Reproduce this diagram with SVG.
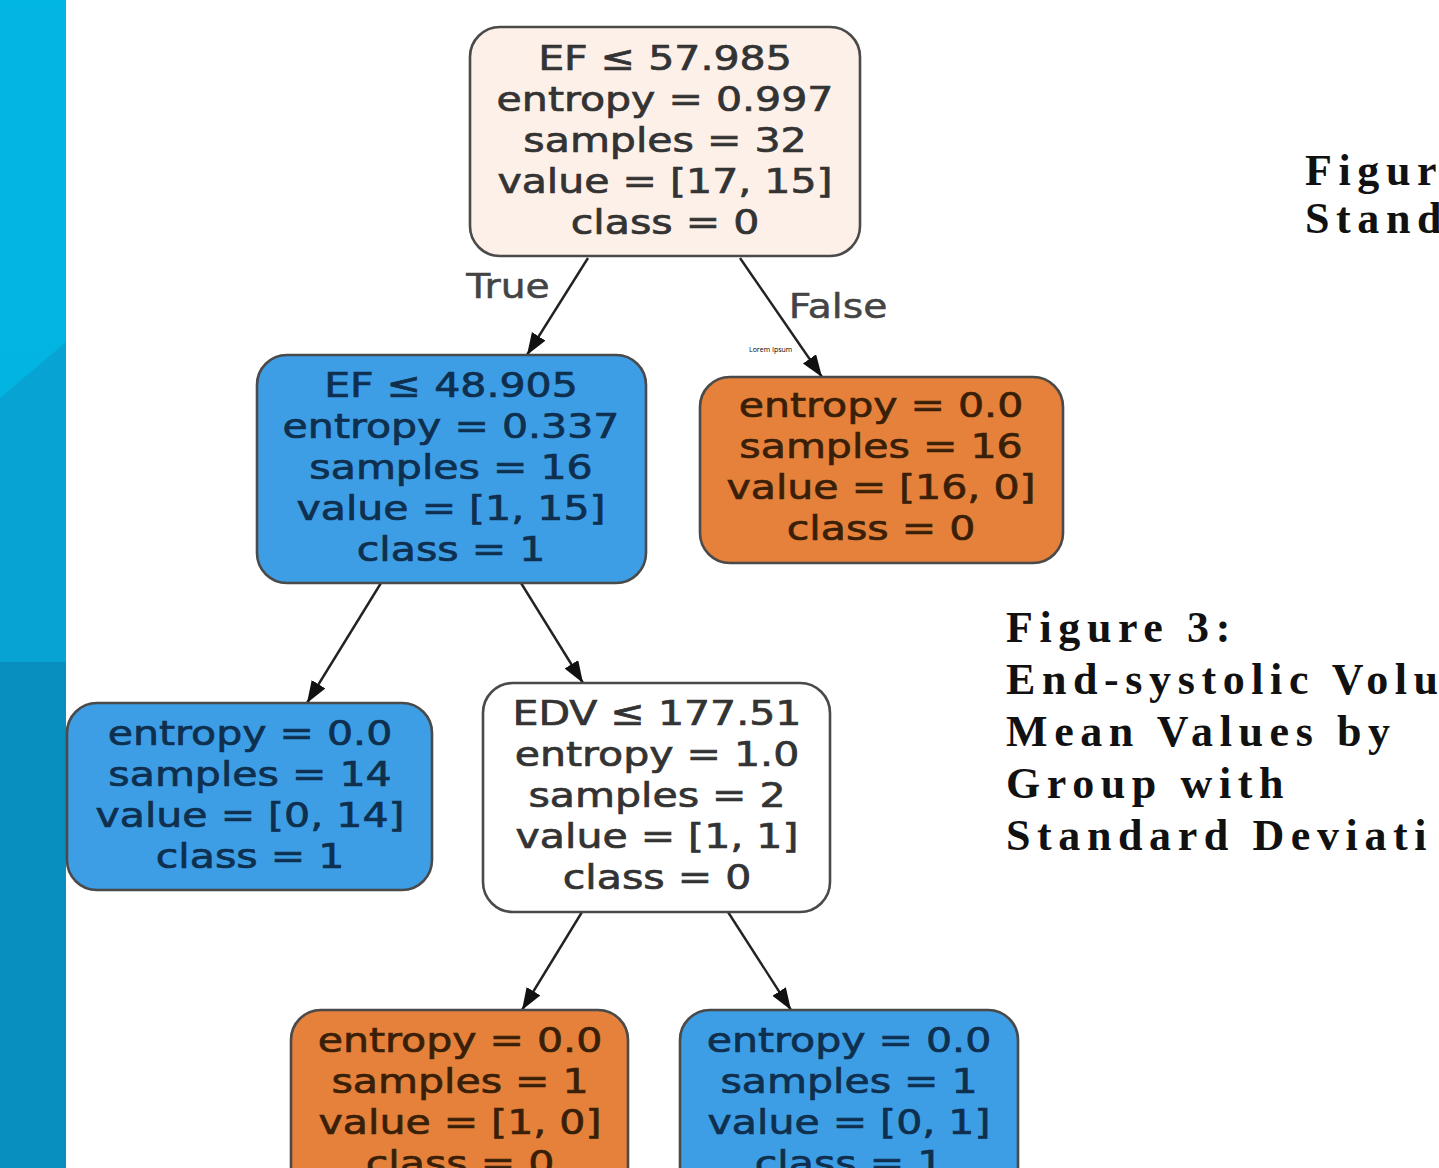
<svg xmlns="http://www.w3.org/2000/svg" width="1439" height="1168" viewBox="0 0 1439 1168">
<style>
.box{stroke:#4a4a4a;stroke-width:2.6}
.root{fill:#fcf0e8}
.wht{fill:#ffffff}
.blu{fill:#3d9ee6}
.org{fill:#e5813a}
.t{font-family:"DejaVu Sans",sans-serif;font-size:34.5px;text-anchor:middle;stroke-width:0.7px}
.tg{fill:#333;stroke:#333}
.tb{fill:#0f2f4e;stroke:#0f2f4e}
.to{fill:#3a1f08;stroke:#3a1f08}
.lbl{font-family:"DejaVu Sans",sans-serif;font-size:33px;fill:#444;stroke:#444;stroke-width:0.5px;text-anchor:middle}
.edge{stroke:#222;stroke-width:2.4;fill:none;marker-end:url(#ah)}
.cap{font-family:"Liberation Serif","Times New Roman",serif;font-weight:bold;font-size:44px;letter-spacing:6.6px;fill:#111}
</style>
<defs>
<marker id="ah" markerUnits="userSpaceOnUse" markerWidth="24" markerHeight="18" refX="22" refY="8" orient="auto">
<path d="M0,0 L22,8 L0,16 z" fill="#111"/>
</marker>
<linearGradient id="sg" x1="0" y1="0" x2="0" y2="1">
<stop offset="0" stop-color="#02b6e3"/>
<stop offset="1" stop-color="#03b1df"/>
</linearGradient>
</defs>
<rect width="1439" height="1168" fill="#ffffff"/>
<g id="strip">
<rect x="0" y="0" width="66" height="1168" fill="url(#sg)"/>
<polygon points="0,398 66,342 66,662 0,662" fill="#07a4d3"/>
<polygon points="0,662 66,662 66,1168 0,1168" fill="#088fc0"/>
</g>
<g id="connectors">
<line class="edge" x1="588" y1="258" x2="527" y2="355"/>
<line class="edge" x1="740" y1="258" x2="822" y2="377"/>
<line class="edge" x1="381" y1="583" x2="307" y2="703"/>
<line class="edge" x1="521" y1="583" x2="583" y2="683"/>
<line class="edge" x1="582" y1="912" x2="522" y2="1010"/>
<line class="edge" x1="728" y1="912" x2="791" y2="1010"/>
<text class="lbl" transform="matrix(1.19,0,0,1,508,298)">True</text>
<text class="lbl" transform="matrix(1.19,0,0,1,838,318)">False</text>
</g>
<g id="n0">
<rect class="box root" x="470" y="27" width="390" height="229" rx="30"/>
<g class="t tg">
<text transform="matrix(1.19,0,0,1,665,70)">EF ≤ 57.985</text>
<text transform="matrix(1.19,0,0,1,665,111)">entropy = 0.997</text>
<text transform="matrix(1.19,0,0,1,665,152)">samples = 32</text>
<text transform="matrix(1.19,0,0,1,665,193)">value = [17, 15]</text>
<text transform="matrix(1.19,0,0,1,665,234)">class = 0</text>
</g>
</g>
<g id="n1">
<rect class="box blu" x="257" y="355" width="389" height="228" rx="30"/>
<g class="t tb">
<text transform="matrix(1.19,0,0,1,451,397)">EF ≤ 48.905</text>
<text transform="matrix(1.19,0,0,1,451,438)">entropy = 0.337</text>
<text transform="matrix(1.19,0,0,1,451,479)">samples = 16</text>
<text transform="matrix(1.19,0,0,1,451,520)">value = [1, 15]</text>
<text transform="matrix(1.19,0,0,1,451,561)">class = 1</text>
</g>
</g>
<g id="n2">
<rect class="box org" x="700" y="377" width="363" height="186" rx="30"/>
<g class="t to">
<text transform="matrix(1.19,0,0,1,881,417)">entropy = 0.0</text>
<text transform="matrix(1.19,0,0,1,881,458)">samples = 16</text>
<text transform="matrix(1.19,0,0,1,881,499)">value = [16, 0]</text>
<text transform="matrix(1.19,0,0,1,881,540)">class = 0</text>
</g>
<text x="749" y="352" font-family="'Open Sans','Liberation Sans',sans-serif" font-size="7" fill="#000">Lorem Ipsum</text>
</g>
<g id="n3">
<rect class="box blu" x="67" y="703" width="365" height="187" rx="30"/>
<g class="t tb">
<text transform="matrix(1.19,0,0,1,250,745)">entropy = 0.0</text>
<text transform="matrix(1.19,0,0,1,250,786)">samples = 14</text>
<text transform="matrix(1.19,0,0,1,250,827)">value = [0, 14]</text>
<text transform="matrix(1.19,0,0,1,250,868)">class = 1</text>
</g>
</g>
<g id="n4">
<rect class="box wht" x="483" y="683" width="347" height="229" rx="30"/>
<g class="t tg">
<text transform="matrix(1.19,0,0,1,657,725)">EDV ≤ 177.51</text>
<text transform="matrix(1.19,0,0,1,657,766)">entropy = 1.0</text>
<text transform="matrix(1.19,0,0,1,657,807)">samples = 2</text>
<text transform="matrix(1.19,0,0,1,657,848)">value = [1, 1]</text>
<text transform="matrix(1.19,0,0,1,657,889)">class = 0</text>
</g>
</g>
<g id="n5">
<rect class="box org" x="291" y="1010" width="337" height="200" rx="30"/>
<g class="t to">
<text transform="matrix(1.19,0,0,1,460,1052)">entropy = 0.0</text>
<text transform="matrix(1.19,0,0,1,460,1093)">samples = 1</text>
<text transform="matrix(1.19,0,0,1,460,1134)">value = [1, 0]</text>
<text transform="matrix(1.19,0,0,1,460,1175)">class = 0</text>
</g>
</g>
<g id="n6">
<rect class="box blu" x="680" y="1010" width="338" height="200" rx="30"/>
<g class="t tb">
<text transform="matrix(1.19,0,0,1,849,1052)">entropy = 0.0</text>
<text transform="matrix(1.19,0,0,1,849,1093)">samples = 1</text>
<text transform="matrix(1.19,0,0,1,849,1134)">value = [0, 1]</text>
<text transform="matrix(1.19,0,0,1,849,1175)">class = 1</text>
</g>
</g>
<g id="captions">
<text class="cap" x="1305" y="185">Figur</text>
<text class="cap" x="1305" y="233">Stand</text>
<text class="cap" x="1006" y="642">Figure 3:</text>
<text class="cap" x="1006" y="694">End-systolic Volu</text>
<text class="cap" x="1006" y="746">Mean Values by</text>
<text class="cap" x="1006" y="798">Group with</text>
<text class="cap" x="1006" y="850">Standard Deviati</text>
</g>
</svg>
